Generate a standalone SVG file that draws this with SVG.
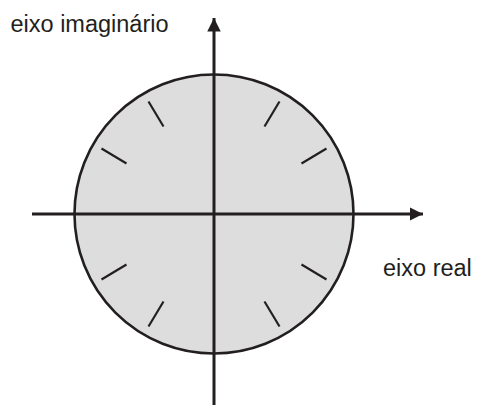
<svg xmlns="http://www.w3.org/2000/svg" width="478" height="407" viewBox="0 0 478 407">
<style>
.lbl{font-family:"Liberation Sans",Arial,sans-serif;font-size:23.5px;fill:#231f20}
.axis{stroke:#231f20;stroke-width:3;fill:none}
.tick{stroke:#231f20;stroke-width:2.2;fill:none}
</style>
<defs>
<marker id="arr" viewBox="0 0 10 10" refX="10" refY="5" markerWidth="4.5" markerHeight="4.5" markerUnits="strokeWidth" orient="auto">
<path d="M0,0 L10,5 L0,10 Z" fill="#231f20"/>
</marker>
</defs>
<g id="circle">
<circle cx="214" cy="214" r="139.5" fill="#dddddd" stroke="#231f20" stroke-width="2.6"/>
</g>
<g id="ticks">
<line class="tick" x1="148.5" y1="101.5" x2="163.5" y2="126.5"/>
<line class="tick" x1="279.5" y1="101.5" x2="264.5" y2="126.5"/>
<line class="tick" x1="101.5" y1="148.5" x2="126.5" y2="163.5"/>
<line class="tick" x1="326.5" y1="148.5" x2="301.5" y2="163.5"/>
<line class="tick" x1="101.5" y1="279.5" x2="126.5" y2="264.5"/>
<line class="tick" x1="326.5" y1="279.5" x2="301.5" y2="264.5"/>
<line class="tick" x1="148.5" y1="326.5" x2="163.5" y2="301.5"/>
<line class="tick" x1="279.5" y1="326.5" x2="264.5" y2="301.5"/>
</g>
<g id="connectors">
<line class="axis" x1="32" y1="214" x2="423" y2="214" marker-end="url(#arr)"/>
<line class="axis" x1="214" y1="405" x2="214" y2="18" marker-end="url(#arr)"/>
</g>
<g id="label-imag">
<text class="lbl" x="10.5" y="31.5">eixo imaginário</text>
</g>
<g id="label-real">
<text class="lbl" x="383" y="275.5">eixo real</text>
</g>
</svg>
